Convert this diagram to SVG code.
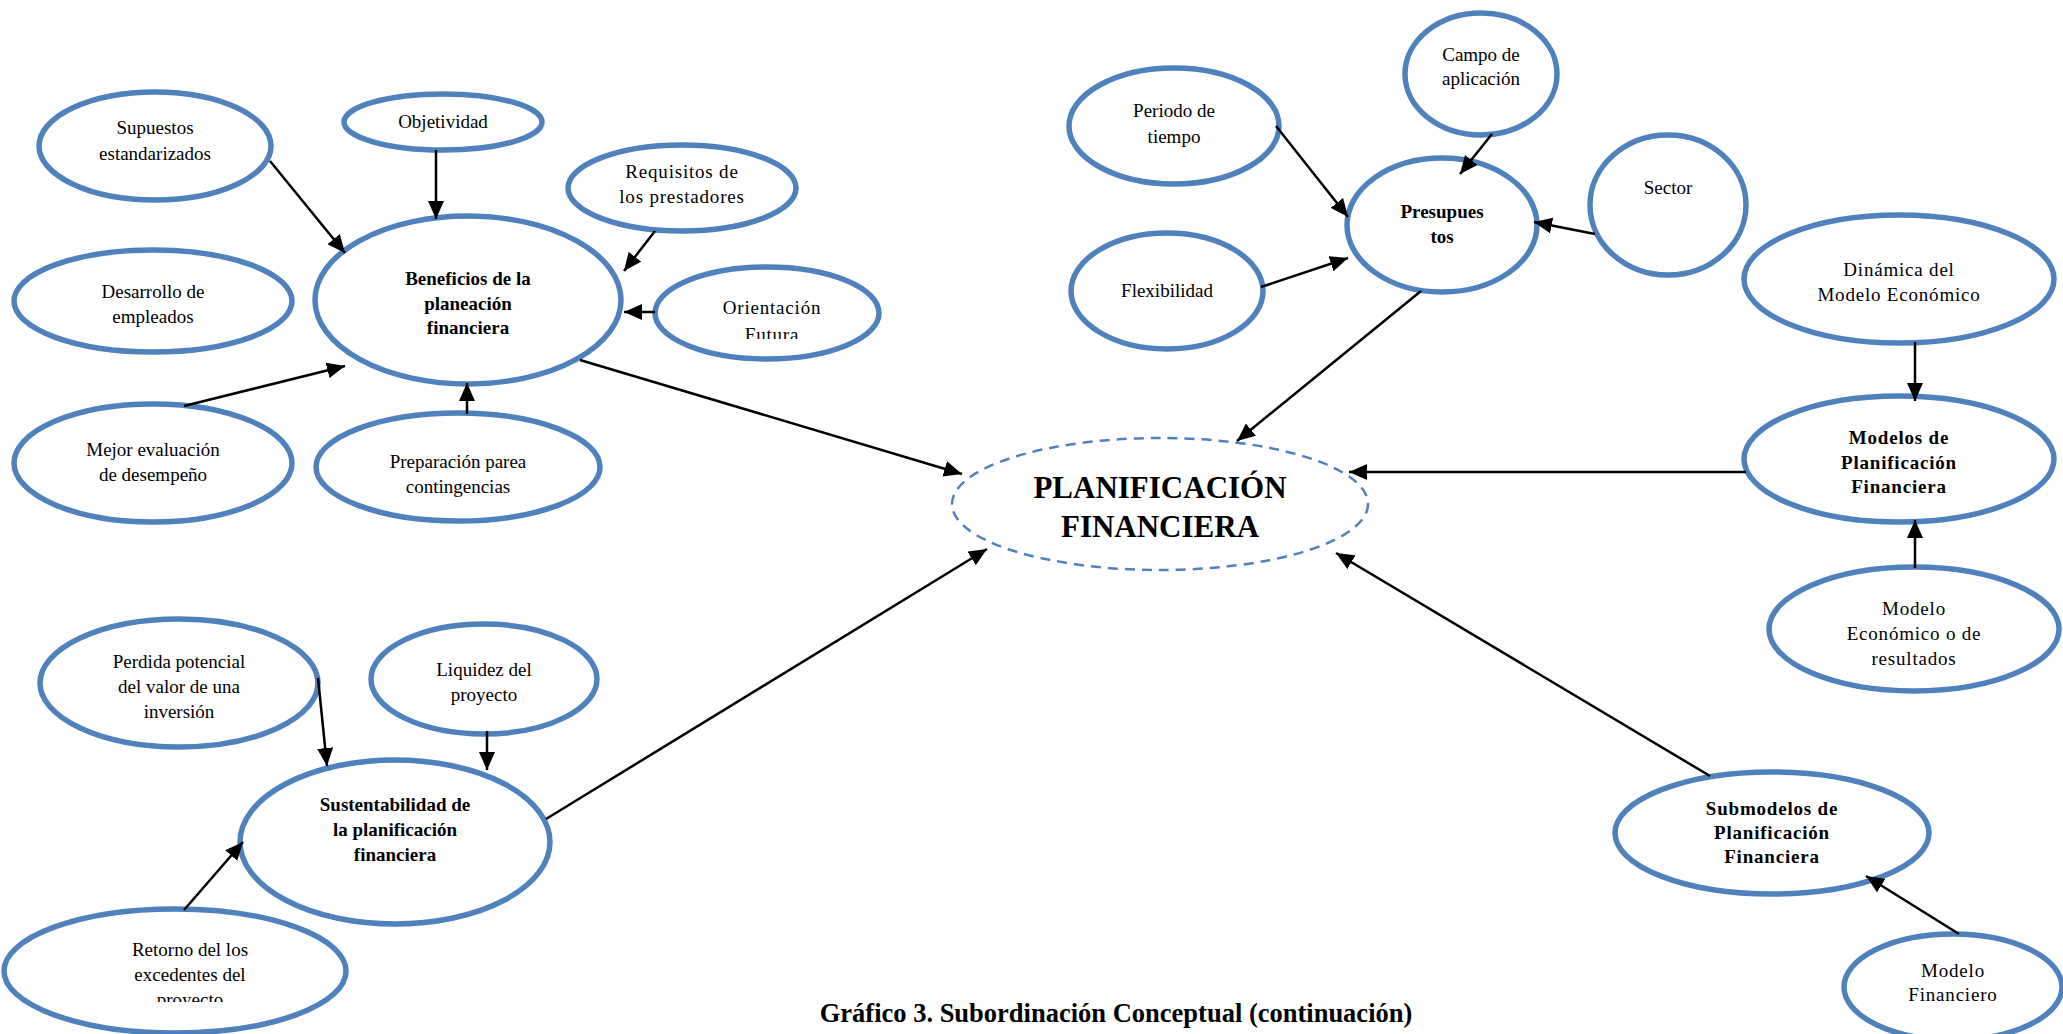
<svg xmlns="http://www.w3.org/2000/svg" width="2063" height="1034" viewBox="0 0 2063 1034">
<style>
.n{fill:#fff;stroke:#4F81BD;stroke-width:5.5}
.c{fill:#fff;stroke:#4F81BD;stroke-width:2.5;stroke-dasharray:10 7}
text{font-family:"Liberation Serif","Times New Roman",serif;font-size:19px;fill:#000;text-anchor:middle}
.b{font-weight:bold}
.w{letter-spacing:0.8px}
.big{font-size:31px;font-weight:bold}
.cap{font-size:26.5px;font-weight:bold}
.a{stroke:#000;stroke-width:2.5;fill:none;marker-end:url(#ah)}
</style>
<defs>
<marker id="ah" markerUnits="userSpaceOnUse" markerWidth="20" markerHeight="16" refX="18" refY="8" orient="auto">
<path d="M0,0 L18,8 L0,16 z" fill="#000"/>
</marker>
<clipPath id="clipOr"><rect x="600" y="260" width="340" height="79"/></clipPath>
<clipPath id="clipRet"><rect x="0" y="900" width="360" height="102"/></clipPath>
</defs>
<rect width="2063" height="1034" fill="#fff"/>

<g id="planificacion">
<ellipse class="c" cx="1160" cy="504" rx="208" ry="66"/>
<text class="big" x="1160" y="498">PLANIFICACIÓN</text>
<text class="big" x="1160" y="537">FINANCIERA</text>
</g>

<g id="supuestos">
<ellipse class="n" cx="155" cy="146" rx="116" ry="54"/>
<text x="155" y="134">Supuestos</text>
<text x="155" y="160">estandarizados</text>
</g>
<g id="objetividad">
<ellipse class="n" cx="443" cy="122" rx="99" ry="28"/>
<text x="443" y="128">Objetividad</text>
</g>
<g id="requisitos">
<ellipse class="n" cx="682" cy="188" rx="114" ry="43"/>
<text class="w" x="682" y="178">Requisitos de</text>
<text class="w" x="682" y="203">los prestadores</text>
</g>
<g id="beneficios">
<ellipse class="n" cx="468" cy="300" rx="153" ry="84"/>
<text class="b" x="468" y="285">Beneficios de la</text>
<text class="b" x="468" y="310">planeación</text>
<text class="b" x="468" y="334">financiera</text>
</g>
<g id="orientacion">
<ellipse class="n" cx="767" cy="313" rx="112" ry="46"/>
<g clip-path="url(#clipOr)">
<text class="w" x="772" y="314">Orientación</text>
<text class="w" x="772" y="341">Futura</text>
</g>
</g>
<g id="desarrollo">
<ellipse class="n" cx="153" cy="301" rx="139" ry="51"/>
<text x="153" y="298">Desarrollo de</text>
<text x="153" y="323">empleados</text>
</g>
<g id="mejor">
<ellipse class="n" cx="153" cy="463" rx="139" ry="59"/>
<text x="153" y="456">Mejor evaluación</text>
<text x="153" y="481">de desempeño</text>
</g>
<g id="preparacion">
<ellipse class="n" cx="458" cy="467" rx="142" ry="54"/>
<text x="458" y="468">Preparación parea</text>
<text x="458" y="493">contingencias</text>
</g>

<g id="periodo">
<ellipse class="n" cx="1174" cy="126" rx="105" ry="58"/>
<text x="1174" y="117">Periodo de</text>
<text x="1174" y="143">tiempo</text>
</g>
<g id="campo">
<ellipse class="n" cx="1481" cy="74" rx="76" ry="61"/>
<text x="1481" y="61">Campo de</text>
<text x="1481" y="85">aplicación</text>
</g>
<g id="presupuestos">
<ellipse class="n" cx="1442" cy="225" rx="95" ry="67"/>
<text class="b" x="1442" y="218">Presupues</text>
<text class="b" x="1442" y="243">tos</text>
</g>
<g id="sector">
<ellipse class="n" cx="1668" cy="205" rx="78" ry="70"/>
<text x="1668" y="194">Sector</text>
</g>
<g id="flexibilidad">
<ellipse class="n" cx="1167" cy="291" rx="96" ry="58"/>
<text x="1167" y="297">Flexibilidad</text>
</g>

<g id="dinamica">
<ellipse class="n" cx="1899" cy="279" rx="155" ry="64"/>
<text class="w" x="1899" y="276">Dinámica del</text>
<text class="w" x="1899" y="301">Modelo Económico</text>
</g>
<g id="modelos">
<ellipse class="n" cx="1899" cy="459" rx="155" ry="63"/>
<text class="b w" x="1899" y="444">Modelos de</text>
<text class="b w" x="1899" y="469">Planificación</text>
<text class="b w" x="1899" y="493">Financiera</text>
</g>
<g id="modelo-economico">
<ellipse class="n" cx="1914" cy="629" rx="145" ry="62"/>
<text class="w" x="1914" y="615">Modelo</text>
<text class="w" x="1914" y="640">Económico o de</text>
<text class="w" x="1914" y="665">resultados</text>
</g>
<g id="submodelos">
<ellipse class="n" cx="1772" cy="833" rx="157" ry="61"/>
<text class="b w" x="1772" y="815">Submodelos de</text>
<text class="b w" x="1772" y="839">Planificación</text>
<text class="b w" x="1772" y="863">Financiera</text>
</g>
<g id="modelo-financiero">
<ellipse class="n" cx="1953" cy="987" rx="109" ry="53"/>
<text class="w" x="1953" y="977">Modelo</text>
<text class="w" x="1953" y="1001">Financiero</text>
</g>

<g id="perdida">
<ellipse class="n" cx="179" cy="683" rx="139" ry="64"/>
<text x="179" y="668">Perdida potencial</text>
<text x="179" y="693">del valor de una</text>
<text x="179" y="718">inversión</text>
</g>
<g id="liquidez">
<ellipse class="n" cx="484" cy="679" rx="113" ry="55"/>
<text x="484" y="676">Liquidez del</text>
<text x="484" y="701">proyecto</text>
</g>
<g id="sustentabilidad">
<ellipse class="n" cx="395" cy="842" rx="155" ry="82"/>
<text class="b" x="395" y="811">Sustentabilidad de</text>
<text class="b" x="395" y="836">la planificación</text>
<text class="b" x="395" y="861">financiera</text>
</g>
<g id="retorno">
<ellipse class="n" cx="175" cy="971" rx="171" ry="62"/>
<g clip-path="url(#clipRet)">
<text x="190" y="956">Retorno del los</text>
<text x="190" y="981">excedentes del</text>
<text x="190" y="1006">proyecto</text>
</g>
</g>

<g id="connectors">
<line class="a" x1="270" y1="161" x2="345" y2="253"/>
<line class="a" x1="436" y1="150" x2="436" y2="219"/>
<line class="a" x1="655" y1="231" x2="624" y2="271"/>
<line class="a" x1="655" y1="312" x2="624" y2="312"/>
<line class="a" x1="184" y1="406" x2="345" y2="366"/>
<line class="a" x1="467" y1="414" x2="467" y2="383"/>
<line class="a" x1="580" y1="360" x2="962" y2="474"/>
<line class="a" x1="1276" y1="126" x2="1348" y2="217"/>
<line class="a" x1="1492" y1="134" x2="1460" y2="174"/>
<line class="a" x1="1595" y1="234" x2="1534" y2="222"/>
<line class="a" x1="1261" y1="287" x2="1348" y2="258"/>
<line class="a" x1="1421" y1="291" x2="1237" y2="441"/>
<line class="a" x1="1915" y1="342" x2="1915" y2="401"/>
<line class="a" x1="1915" y1="568" x2="1915" y2="520"/>
<line class="a" x1="1746" y1="472" x2="1349" y2="472"/>
<line class="a" x1="1710" y1="776" x2="1336" y2="553"/>
<line class="a" x1="1959" y1="934" x2="1866" y2="876"/>
<line class="a" x1="318" y1="678" x2="327" y2="766"/>
<line class="a" x1="487" y1="731" x2="487" y2="770"/>
<line class="a" x1="184" y1="910" x2="243" y2="842"/>
<line class="a" x1="546" y1="819" x2="987" y2="549"/>
</g>

<text id="caption" class="cap" x="1116" y="1022">Gráfico 3. Subordinación Conceptual (continuación)</text>
</svg>
